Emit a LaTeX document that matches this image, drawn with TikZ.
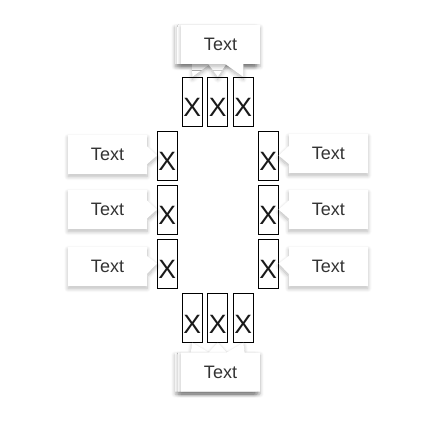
\documentclass[tikz,border=0pt]{standalone}
\usepackage{fontspec}
\setmainfont{Liberation Sans}
\usetikzlibrary{shapes.callouts,shadows.blur}
\definecolor{txtgray}{HTML}{333333}
\tikzset{
  xbox/.style={draw=black, line width=0.8pt, inner sep=0pt, minimum width=20pt, minimum height=49pt,
    text height=39.7pt, text depth=9.3pt, font=\fontsize{26.5}{26.5}\selectfont, text=black!90},
  tag/.style={rectangle callout, fill=white, inner sep=0pt, minimum width=79pt, minimum height=39pt,
    font=\fontsize{18}{18}\selectfont, text=txtgray, callout pointer width=18pt,
    blur shadow={shadow blur steps=10, shadow xshift=0pt, shadow yshift=-2.5pt, shadow opacity=28, shadow blur radius=4pt}}
}
\begin{document}
\begin{tikzpicture}[x=1pt,y=-1pt]
\useasboundingbox (0,0) rectangle (436,420);
% boxes
\node[xbox] (t1) at (192.3,101.7) {X};
\node[xbox] (t2) at (217.8,101.7) {X};
\node[xbox] (t3) at (243.3,101.7) {X};
\node[xbox] (b1) at (192.3,317.8) {X};
\node[xbox] (b2) at (217.8,317.8) {X};
\node[xbox] (b3) at (243.3,317.8) {X};
\node[xbox] (l1) at (167.3,155.5) {X};
\node[xbox] (l2) at (167.3,209.5) {X};
\node[xbox] (l3) at (167.3,263.5) {X};
\node[xbox] (r1) at (268.3,155.5) {X};
\node[xbox] (r2) at (268.3,209.5) {X};
\node[xbox] (r3) at (268.3,263.5) {X};
% callouts
\node[tag, callout absolute pointer={(t1.north)}] (ct1) at (214.5,44.5) {};
\node[tag, callout absolute pointer={(t2.north)}] (ct2) at (216.5,44.5) {};
\node[tag, callout absolute pointer={(t3.north)}] (ct3) at (220.5,44.5) {Text};
\node[tag, callout absolute pointer={(b1.south)}] (cb1) at (214.5,372) {};
\node[tag, callout absolute pointer={(b2.south)}] (cb2) at (217.5,372) {};
\node[tag, callout absolute pointer={(b3.south)}] (cb3) at (220.5,372) {Text};
\node[tag, callout absolute pointer={(l1.west)}] (cl1) at (107.5,154.5) {Text};
\node[tag, callout absolute pointer={(l2.west)}] (cl2) at (107.5,209.5) {Text};
\node[tag, callout absolute pointer={(l3.west)}] (cl3) at (107.5,266.5) {Text};
\node[tag, callout absolute pointer={(r1.east)}] (cr1) at (328.3,153.5) {Text};
\node[tag, callout absolute pointer={(r2.east)}] (cr2) at (328.3,209.5) {Text};
\node[tag, callout absolute pointer={(r3.east)}] (cr3) at (328.3,266.5) {Text};
\end{tikzpicture}
\end{document}
